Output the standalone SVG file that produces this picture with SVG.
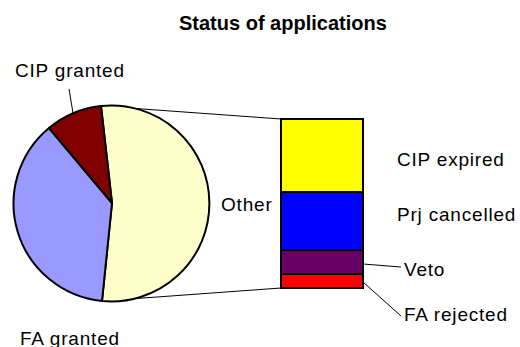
<svg xmlns="http://www.w3.org/2000/svg" width="520" height="347" viewBox="0 0 520 347">
<style>
text{font-family:"Liberation Sans",Arial,sans-serif;font-size:19px;fill:#000;letter-spacing:0.8px}
.title{font-weight:bold;font-size:20px;letter-spacing:0}
.slice{stroke:#000;stroke-width:2;stroke-linejoin:round}
.bar{stroke:#000;stroke-width:2}
.lead{stroke:#000;stroke-width:1;fill:none}
</style>
<rect width="520" height="347" fill="#fff"/>
<text class="title" x="179" y="30">Status of applications</text>
<g id="connectors">
<line class="lead" x1="101" y1="106" x2="281" y2="119"/>
<line class="lead" x1="102" y1="301" x2="281" y2="288"/>
<line class="lead" x1="69" y1="89" x2="73" y2="113"/>
<line class="lead" x1="363" y1="264" x2="401" y2="267"/>
<line class="lead" x1="363" y1="282" x2="401" y2="316"/>
</g>
<g id="pie-other"><path class="slice" fill="#FFFFCC" d="M112,203 L101,106 A98,98 0 1 1 102,301 Z"/></g>
<g id="pie-fa-granted"><path class="slice" fill="#9999FF" d="M112,203 L102,301 A98,98 0 0 1 49,128 Z"/></g>
<g id="pie-cip-granted"><path class="slice" fill="#800000" d="M112,203 L49,128 A98,98 0 0 1 101,106 Z"/></g>
<g id="bar-cip-expired"><rect class="bar" fill="#FFFF00" x="281" y="119" width="82" height="73"/></g>
<g id="bar-prj-cancelled"><rect class="bar" fill="#0000FF" x="281" y="192" width="82" height="58"/></g>
<g id="bar-veto"><rect class="bar" fill="#660066" x="281" y="250" width="82" height="24"/></g>
<g id="bar-fa-rejected"><rect class="bar" fill="#FF0000" x="281" y="274" width="82" height="14"/></g>
<g id="labels">
<text x="15" y="77">CIP granted</text>
<text x="221" y="211">Other</text>
<text x="20" y="345">FA granted</text>
<text x="397" y="166">CIP expired</text>
<text x="397" y="221">Prj cancelled</text>
<text x="404" y="276">Veto</text>
<text x="404" y="321">FA rejected</text>
</g>
</svg>
